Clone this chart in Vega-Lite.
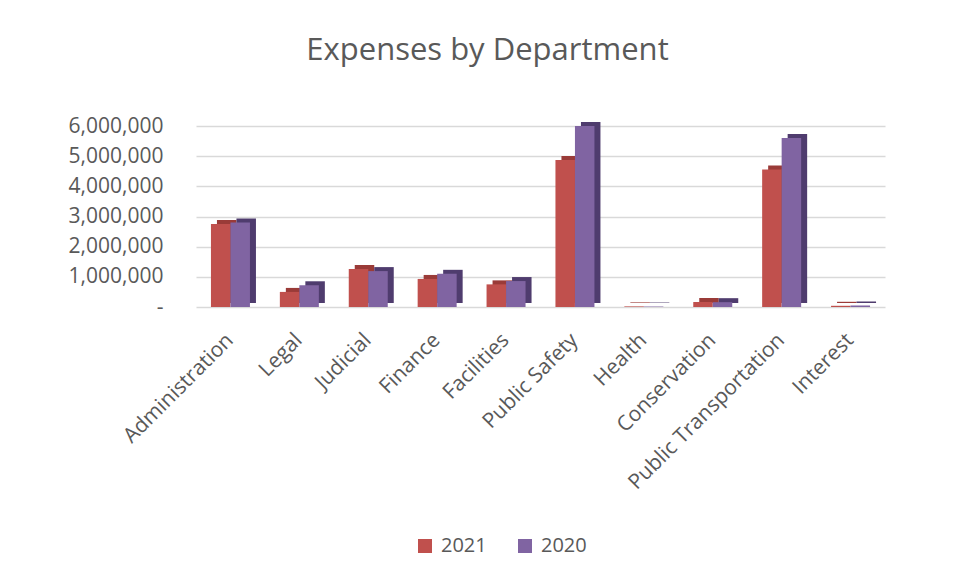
{
  "$schema": "https://vega.github.io/schema/vega-lite/v6.json",
  "width": 689,
  "height": 181,
  "autosize": {"type": "none"},
  "padding": {"left": 196, "top": 126, "right": 71, "bottom": 270},
  "background": "white",
  "config": {
    "view": {"stroke": null},
    "font": "Open Sans"
  },
  "title": {
    "text": "Expenses by Department",
    "fontSize": 31,
    "fontWeight": "normal",
    "color": "#595959",
    "anchor": "middle",
    "frame": "group",
    "dx": -53,
    "offset": 48
  },
  "data": {
    "values": [
      {"department": "Administration", "year": "2021", "expense": 2750000},
      {"department": "Administration", "year": "2020", "expense": 2800000},
      {"department": "Legal", "year": "2021", "expense": 500000},
      {"department": "Legal", "year": "2020", "expense": 720000},
      {"department": "Judicial", "year": "2021", "expense": 1260000},
      {"department": "Judicial", "year": "2020", "expense": 1190000},
      {"department": "Finance", "year": "2021", "expense": 930000},
      {"department": "Finance", "year": "2020", "expense": 1100000},
      {"department": "Facilities", "year": "2021", "expense": 750000},
      {"department": "Facilities", "year": "2020", "expense": 860000},
      {"department": "Public Safety", "year": "2021", "expense": 4870000},
      {"department": "Public Safety", "year": "2020", "expense": 6000000},
      {"department": "Health", "year": "2021", "expense": 20000},
      {"department": "Health", "year": "2020", "expense": 15000},
      {"department": "Conservation", "year": "2021", "expense": 165000},
      {"department": "Conservation", "year": "2020", "expense": 160000},
      {"department": "Public Transportation", "year": "2021", "expense": 4560000},
      {"department": "Public Transportation", "year": "2020", "expense": 5600000},
      {"department": "Interest", "year": "2021", "expense": 40000},
      {"department": "Interest", "year": "2020", "expense": 50000}
    ]
  },
  "encoding": {
    "x": {
      "field": "department",
      "type": "nominal",
      "sort": null,
      "scale": {"paddingInner": 0.434, "paddingOuter": 0.217},
      "axis": {
        "title": null,
        "labelAngle": -45,
        "labelFontSize": 21,
        "labelColor": "#595959",
        "labelPadding": 22,
        "labelOffset": -8,
        "labelLimit": 0,
        "ticks": false,
        "domain": false,
        "grid": false
      }
    },
    "y": {
      "field": "expense",
      "type": "quantitative",
      "scale": {"domain": [0, 6000000], "nice": false},
      "axis": {
        "title": null,
        "values": [0, 1000000, 2000000, 3000000, 4000000, 5000000, 6000000],
        "labelExpr": "datum.value == 0 ? '-' : format(datum.value, ',')",
        "labelFontSize": 21,
        "labelColor": "#595959",
        "labelPadding": 33,
        "ticks": false,
        "domain": false,
        "gridColor": "#d9d9d9",
        "gridWidth": 1.5
      }
    }
  },
  "layer": [
    {
      "mark": {"type": "bar", "yOffset": -4},
      "encoding": {
        "xOffset": {
          "field": "year",
          "type": "nominal",
          "sort": ["2021", "2020"],
          "scale": {"range": [6, 45]}
        },
        "color": {
          "field": "year",
          "type": "nominal",
          "scale": {"domain": ["2021", "2020"], "range": ["#9a3b38", "#4f3c6e"]},
          "legend": null
        }
      }
    },
    {
      "mark": {"type": "bar"},
      "encoding": {
        "xOffset": {"field": "year", "type": "nominal", "sort": ["2021", "2020"]},
        "color": {
          "field": "year",
          "type": "nominal",
          "scale": {"domain": ["2021", "2020"], "range": ["#C0504D", "#8064A2"]},
          "legend": {
            "title": null,
            "orient": "none",
            "direction": "horizontal",
            "legendX": 219,
            "legendY": 410,
            "symbolType": "square",
            "symbolSize": 196,
            "symbolStrokeWidth": 0,
            "labelFontSize": 20,
            "labelColor": "#595959",
            "labelOffset": 6,
            "columnPadding": 28
          }
        }
      }
    }
  ],
  "resolve": {"scale": {"color": "independent", "xOffset": "independent"}}
}
